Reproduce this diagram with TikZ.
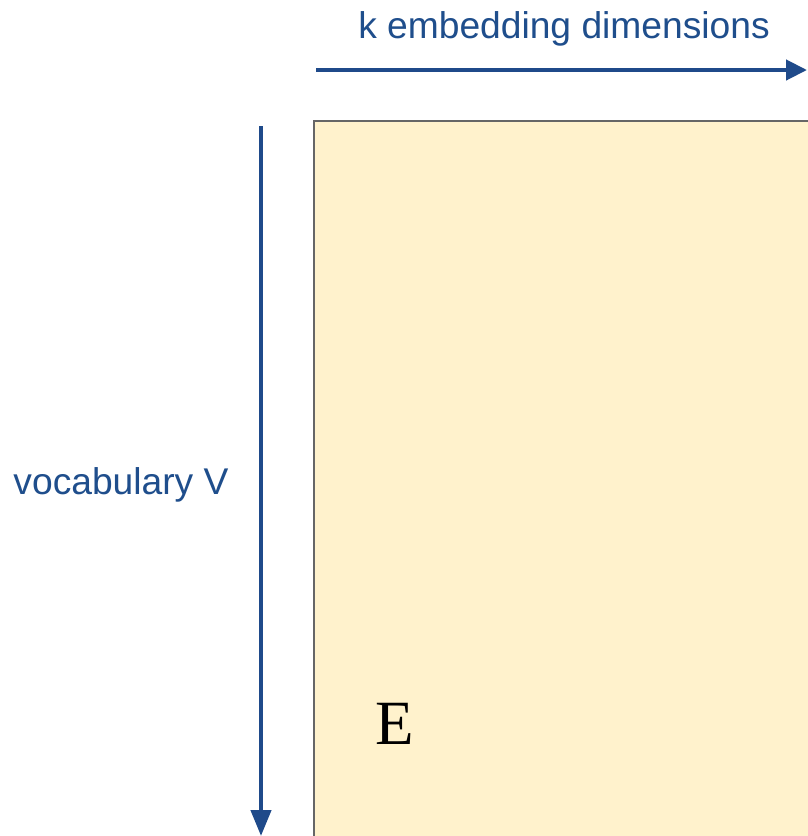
\documentclass[tikz,border=0pt]{standalone}
\usepackage{fontspec}
\setmainfont{Liberation Sans}
\newfontfamily\serifE{Liberation Serif}
\usetikzlibrary{arrows.meta}
\definecolor{txtblue}{HTML}{1F4E8C}
\definecolor{arrblue}{HTML}{1F4A8A}
\definecolor{matfill}{HTML}{FFF2CC}
\definecolor{matborder}{HTML}{666666}
\tikzset{
  lbl/.style={text=txtblue, font=\fontsize{37.2}{40}\selectfont, inner sep=0pt, anchor=base},
  dimarrow/.style={draw=arrblue, line width=4.3pt},
}
\begin{document}
\begin{tikzpicture}[x=1pt,y=-1pt]
\useasboundingbox (0,0) rectangle (807,836);
\fill[white] (0,0) rectangle (807,836);
\draw[fill=matfill, draw=matborder, line width=2.4pt] (314,121) rectangle (830,860);
\node[inner sep=0pt, anchor=base, font=\serifE\fontsize{63}{66}\selectfont] (E) at (395,744) {E};
\node[lbl] (klabel) at (564,38) {k embedding dimensions};
\node[lbl] (vlabel) at (121,494) {vocabulary V};
\coordinate (hstart) at (316,70);
\coordinate (hend) at (807,70);
\coordinate (vstart) at (261,126);
\coordinate (vend) at (261,836);
\draw[dimarrow, -{Triangle[length=21pt,width=20pt]}] (hstart) -- (hend);
\draw[dimarrow, -{Triangle[length=26pt,width=20pt]}] (vstart) -- (vend);
\end{tikzpicture}
\end{document}
